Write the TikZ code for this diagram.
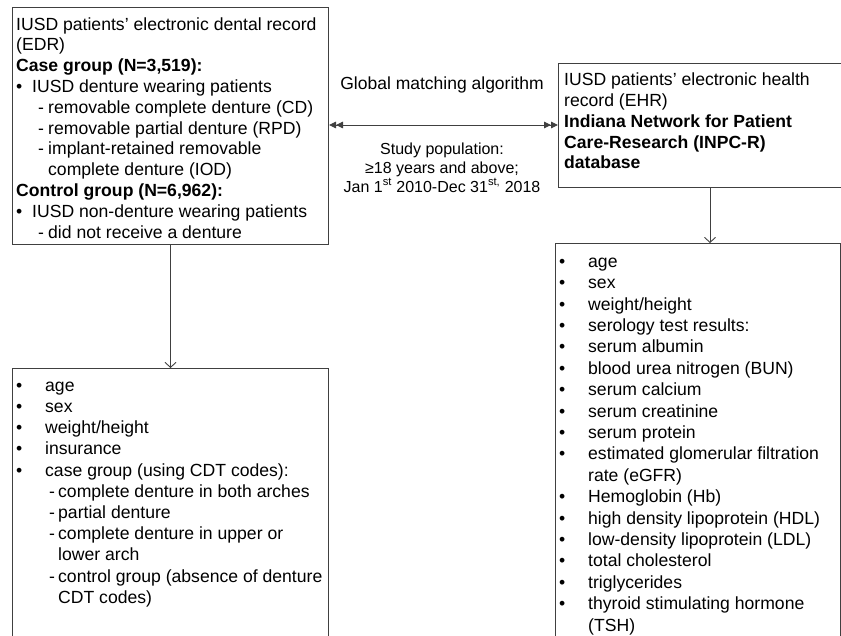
\documentclass[tikz,border=0pt]{standalone}
\usepackage{fontspec}
\setmainfont{Liberation Sans}
\usetikzlibrary{arrows.meta}
\newcommand{\mybul}[1]{\makebox[#1][l]{•}}
\newcommand{\mydsh}[2]{\hspace*{#1}\makebox[#2][l]{-}}
\begin{document}
\begin{tikzpicture}[x=1pt,y=-1pt,
  box/.style={draw=black!75, line width=1pt, inner sep=0pt, anchor=north west},
  body/.style={anchor=north west, inner sep=0pt, align=left, text=black},
  conn/.style={draw=black!75, line width=0.9pt},
  dbl/.style={arrows={Triangle[length=7pt,width=6.5pt]Triangle[length=7pt,width=6.5pt]-Triangle[length=7pt,width=6.5pt]Triangle[length=7pt,width=6.5pt]}},
  vtip/.style={-{Straight Barb[length=5pt,width=11pt]}}]
\useasboundingbox (0,0) rectangle (841,636);
\clip (0,0) rectangle (841,636);
% boxes
\node[box, minimum width=316pt, minimum height=237pt] (edr) at (12,7) {};
\node[box, minimum width=286pt, minimum height=124pt] (ehr) at (558,63) {};
\node[box, minimum width=316pt, minimum height=300pt] (lvars) at (12,368) {};
\node[box, minimum width=285pt, minimum height=420pt] (rvars) at (555,243) {};
% texts
\node[body, font=\fontsize{17.6}{20.8}\selectfont] (edrtxt) at (16,16) {\rule{0pt}{14pt}IUSD patients’ electronic dental record\\
(EDR)\\
\textbf{Case group (N=3,519):}\\
\mybul{16pt}IUSD denture wearing patients\\
\mydsh{22pt}{10pt}removable complete denture (CD)\\
\mydsh{22pt}{10pt}removable partial denture (RPD)\\
\mydsh{22pt}{10pt}implant-retained removable\\
\hspace*{32pt}complete denture (IOD)\\
\textbf{Control group (N=6,962):}\\
\mybul{16pt}IUSD non-denture wearing patients\\
\mydsh{22pt}{10pt}did not receive a denture};
\node[body, font=\fontsize{17.6}{20.8}\selectfont] (ehrtxt) at (564,71.5) {\rule{0pt}{14pt}IUSD patients’ electronic health\\
record (EHR)\\
\textbf{Indiana Network for Patient}\\
\textbf{Care-Research (INPC-R)}\\
\textbf{database}};
\node[body, font=\fontsize{17.6}{21.2}\selectfont] (ltxt) at (16,377) {\rule{0pt}{14pt}\mybul{29pt}age\\
\mybul{29pt}sex\\
\mybul{29pt}weight/height\\
\mybul{29pt}insurance\\
\mybul{29pt}case group (using CDT codes):\\
\mydsh{33pt}{9pt}complete denture in both arches\\
\mydsh{33pt}{9pt}partial denture\\
\mydsh{33pt}{9pt}complete denture in upper or\\
\hspace*{42pt}lower arch\\
\mydsh{33pt}{9pt}control group (absence of denture\\
\hspace*{42pt}CDT codes)};
\node[body, font=\fontsize{17.6}{21.4}\selectfont] (rtxt) at (559,253) {\rule{0pt}{14pt}\mybul{29pt}age\\
\mybul{29pt}sex\\
\mybul{29pt}weight/height\\
\mybul{29pt}serology test results:\\
\mybul{29pt}serum albumin\\
\mybul{29pt}blood urea nitrogen (BUN)\\
\mybul{29pt}serum calcium\\
\mybul{29pt}serum creatinine\\
\mybul{29pt}serum protein\\
\mybul{29pt}estimated glomerular filtration\\
\hspace*{29pt}rate (eGFR)\\
\mybul{29pt}Hemoglobin (Hb)\\
\mybul{29pt}high density lipoprotein (HDL)\\
\mybul{29pt}low-density lipoprotein (LDL)\\
\mybul{29pt}total cholesterol\\
\mybul{29pt}triglycerides\\
\mybul{29pt}thyroid stimulating hormone\\
\hspace*{29pt}(TSH)};
% middle labels
\node[anchor=base, inner sep=0pt, font=\fontsize{17.5}{20}\selectfont] (gma) at (442,90) {Global matching algorithm};
\node[anchor=north, inner sep=0pt, align=center, font=\fontsize{16}{19}\selectfont] (study) at (442,141) {\rule{0pt}{13pt}Study population:\\
≥18 years and above;\\
Jan 1\textsuperscript{st} 2010-Dec 31\textsuperscript{st,} 2018};
% connectors
\coordinate (ay) at (0,125);
\coordinate (rx) at (710,0);
\draw[conn, dbl] (edr.east |- ay) -- (ehr.west |- ay);
\draw[conn, vtip] (edr.south) -- (lvars.north);
\draw[conn, vtip] (ehr.south -| rx) -- (rvars.north -| rx);
\end{tikzpicture}
\end{document}
